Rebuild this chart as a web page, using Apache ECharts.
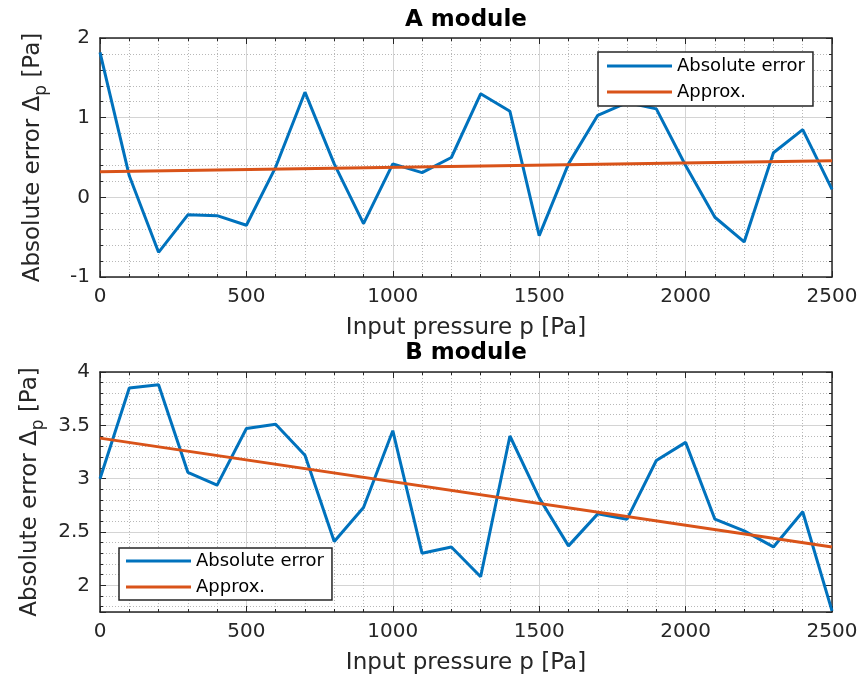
<!DOCTYPE html>
<html>
<head>
<meta charset="utf-8">
<title>Absolute error vs input pressure</title>
<script src="https://cdn.jsdelivr.net/npm/echarts@6/dist/echarts.min.js"></script>
<style>
  html, body { margin: 0; padding: 0; background: #fff; }
  #chart { width: 867px; height: 684px; }
</style>
</head>
<body>
<div id="chart"></div>
<script>
// Input pressure samples [Pa]
const pressure = [0, 100, 200, 300, 400, 500, 600, 700, 800, 900, 1000, 1100, 1200,
  1300, 1400, 1500, 1600, 1700, 1800, 1900, 2000, 2100, 2200, 2300, 2400, 2500];

// A module: measured absolute error [Pa]
const errorA = [1.82, 0.27, -0.69, -0.22, -0.23, -0.35, 0.38, 1.32, 0.42, -0.33, 0.42, 0.31, 0.50,
  1.30, 1.08, -0.48, 0.42, 1.03, 1.19, 1.11, 0.40, -0.25, -0.56, 0.56, 0.85, 0.10];

// B module: measured absolute error [Pa]
const errorB = [3.00, 3.85, 3.88, 3.06, 2.94, 3.47, 3.51, 3.22, 2.41, 2.73, 3.45, 2.30, 2.36,
  2.08, 3.40, 2.82, 2.37, 2.67, 2.62, 3.17, 3.34, 2.62, 2.51, 2.36, 2.69, 1.76];

// Linear approximations, given at the ends of the pressure range
const approxX = [0, 2500];
const approxA = [0.32, 0.46];
const approxB = [3.38, 2.36];

const titles = ['A module', 'B module'];
const seriesNames = ['Absolute error', 'Approx.'];
const xName = 'Input pressure p [Pa]';

const BLUE = '#0072BD';
const ORANGE = '#D95319';
const AXIS = '#262626';
const FONT = 'DejaVu Sans';

const pairs = (xs, ys) => xs.map((x, i) => [x, ys[i]]);
const plain = v => String(v);

const grids = [
  { left: 100, top: 38, width: 732, height: 239 },
  { left: 100, top: 372, width: 732, height: 240 }
];

function xAxes(gridIndex) {
  const common = {
    type: 'value', gridIndex, min: 0, max: 2500, interval: 500,
    axisLine: { show: true, onZero: false, lineStyle: { color: AXIS, width: 1.5 } },
    axisTick: { show: true, inside: true, length: 6, lineStyle: { color: AXIS } },
    minorTick: { show: true, splitNumber: 5, length: 3, lineStyle: { color: AXIS } }
  };
  return [
    Object.assign({}, common, {
      position: 'bottom',
      axisLabel: { color: AXIS, fontFamily: FONT, fontSize: 20, margin: 10, formatter: plain },
      name: xName, nameLocation: 'middle', nameGap: 40,
      nameTextStyle: { color: AXIS, fontFamily: FONT, fontSize: 23 },
      splitLine: { show: true, lineStyle: { color: '#d4d4d4', width: 1 } },
      minorSplitLine: { show: true, lineStyle: { color: '#b8b8b8', type: [1, 2], width: 1 } }
    }),
    Object.assign({}, common, {
      position: 'top',
      axisLabel: { show: false },
      splitLine: { show: false },
      minorSplitLine: { show: false }
    })
  ];
}

function yAxes(gridIndex, range, hideMin) {
  const common = Object.assign({
    type: 'value', gridIndex,
    axisLine: { show: true, onZero: false, lineStyle: { color: AXIS, width: 1.5 } },
    axisTick: { show: true, inside: true, length: 6, lineStyle: { color: AXIS } },
    minorTick: { show: true, splitNumber: 5, length: 3, lineStyle: { color: AXIS } }
  }, range);
  return [
    Object.assign({}, common, {
      position: 'left',
      axisLabel: { color: AXIS, fontFamily: FONT, fontSize: 20, margin: 10, showMinLabel: !hideMin, formatter: plain },
      name: '{m|Absolute error Δ}{s|p}{m| [Pa]}',
      nameLocation: 'middle', nameGap: 50,
      nameTextStyle: {
        color: AXIS, fontFamily: FONT,
        rich: {
          m: { fontSize: 23, fontFamily: FONT, color: AXIS, lineHeight: 34 },
          s: { fontSize: 17, fontFamily: FONT, color: AXIS, verticalAlign: 'bottom', lineHeight: 34 }
        }
      },
      splitLine: { show: true, lineStyle: { color: '#d4d4d4', width: 1 } },
      minorSplitLine: { show: true, lineStyle: { color: '#b8b8b8', type: [1, 2], width: 1 } }
    }),
    Object.assign({}, common, {
      position: 'right',
      axisLabel: { show: false },
      splitLine: { show: false },
      minorSplitLine: { show: false }
    })
  ];
}

const titleStyle = { fontFamily: FONT, fontSize: 23, fontWeight: 'bold', color: '#000' };
const legendBase = {
  orient: 'vertical', itemGap: 6, itemWidth: 65, itemHeight: 3, icon: 'rect',
  backgroundColor: '#fff', borderColor: AXIS, borderWidth: 1.5, borderRadius: 0,
  textStyle: { fontFamily: FONT, fontSize: 18, color: '#000', lineHeight: 20 },
  data: seriesNames
};

const option = {
  backgroundColor: '#fff',
  animation: false,
  title: [
    { text: titles[0], left: 466, top: 9, textAlign: 'center', padding: 0, textStyle: titleStyle },
    { text: titles[1], left: 466, top: 342, textAlign: 'center', padding: 0, textStyle: titleStyle }
  ],
  legend: [
    Object.assign({ left: 598, top: 52, padding: [4, 8, 4, 9] }, legendBase),
    Object.assign({ left: 119, top: 548, padding: [3, 8, 3, 7] }, legendBase)
  ],
  grid: grids,
  xAxis: [].concat(xAxes(0), xAxes(1)),
  yAxis: [].concat(
    yAxes(0, { min: -1, max: 2, interval: 1 }, false),
    yAxes(1, { min: 1.75, max: 4, splitNumber: 5 }, true)
  ),
  series: [
    { name: seriesNames[0], type: 'line', xAxisIndex: 0, yAxisIndex: 0, data: pairs(pressure, errorA),
      showSymbol: false, lineStyle: { color: BLUE, width: 3 }, itemStyle: { color: BLUE }, z: 3 },
    { name: seriesNames[1], type: 'line', xAxisIndex: 0, yAxisIndex: 0, data: pairs(approxX, approxA),
      showSymbol: false, lineStyle: { color: ORANGE, width: 3 }, itemStyle: { color: ORANGE }, z: 4 },
    { name: seriesNames[0], type: 'line', xAxisIndex: 2, yAxisIndex: 2, data: pairs(pressure, errorB),
      showSymbol: false, lineStyle: { color: BLUE, width: 3 }, itemStyle: { color: BLUE }, z: 3 },
    { name: seriesNames[1], type: 'line', xAxisIndex: 2, yAxisIndex: 2, data: pairs(approxX, approxB),
      showSymbol: false, lineStyle: { color: ORANGE, width: 3 }, itemStyle: { color: ORANGE }, z: 4 }
  ]
};

const chart = echarts.init(document.getElementById('chart'), null, { renderer: 'canvas' });
chart.setOption(option);
</script>
</body>
</html>
